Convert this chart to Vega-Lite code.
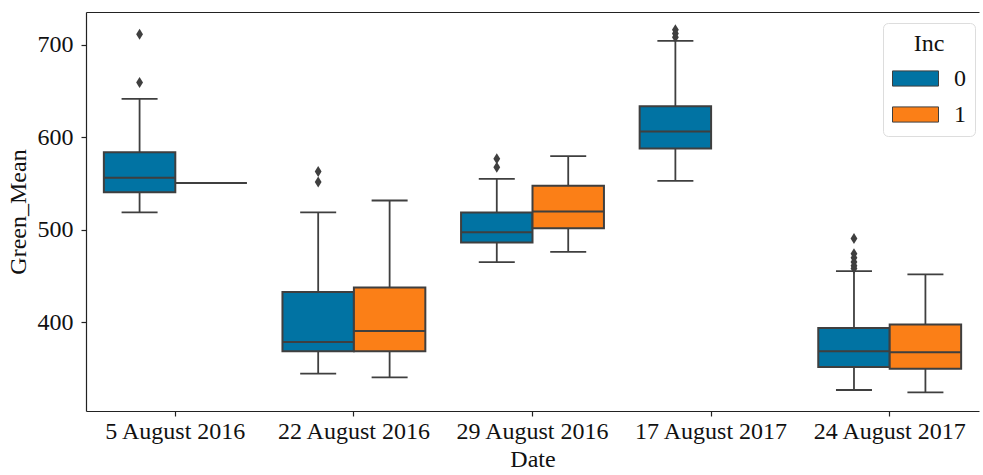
{
  "$schema": "https://vega.github.io/schema/vega-lite/v6.json",
  "autosize": "none",
  "width": 893,
  "height": 399,
  "padding": {"left": 86, "top": 12, "right": 4, "bottom": 64},
  "background": "white",
  "config": {
    "view": {"stroke": null},
    "font": "Liberation Serif",
    "axis": {
      "labelFont": "Liberation Serif",
      "titleFont": "Liberation Serif",
      "labelFontSize": 24,
      "titleFontSize": 24,
      "titleFontWeight": "normal",
      "labelColor": "#111111",
      "titleColor": "#111111",
      "domainColor": "#222222",
      "domainWidth": 1.2,
      "tickColor": "#222222",
      "tickWidth": 1.2,
      "tickSize": 5,
      "grid": false
    },
    "legend": {
      "labelFont": "Liberation Serif",
      "titleFont": "Liberation Serif"
    }
  },
  "datasets": {
    "boxes": [
      {"date": "5 August 2016", "inc": "0", "lo": 518.6, "q1": 540.5, "med": 556.0, "q3": 583.7, "hi": 641.3},
      {"date": "5 August 2016", "inc": "1", "lo": 550.5, "q1": 550.5, "med": 550.5, "q3": 550.5, "hi": 550.5},
      {"date": "22 August 2016", "inc": "0", "lo": 344.3, "q1": 368.5, "med": 378.5, "q3": 432.5, "hi": 518.6},
      {"date": "22 August 2016", "inc": "1", "lo": 340.4, "q1": 368.5, "med": 390.4, "q3": 437.6, "hi": 531.5},
      {"date": "29 August 2016", "inc": "0", "lo": 464.9, "q1": 486.2, "med": 497.3, "q3": 518.6, "hi": 554.9},
      {"date": "29 August 2016", "inc": "1", "lo": 476.0, "q1": 501.6, "med": 519.7, "q3": 547.3, "hi": 579.4},
      {"date": "17 August 2017", "inc": "0", "lo": 552.7, "q1": 587.7, "med": 606.0, "q3": 633.4, "hi": 703.9},
      {"date": "24 August 2017", "inc": "0", "lo": 326.7, "q1": 351.5, "med": 368.5, "q3": 393.6, "hi": 455.2},
      {"date": "24 August 2017", "inc": "1", "lo": 324.2, "q1": 349.7, "med": 367.4, "q3": 397.6, "hi": 451.6}
    ],
    "outliers": [
      {"date": "5 August 2016", "inc": "0", "value": 711.1},
      {"date": "5 August 2016", "inc": "0", "value": 659.0},
      {"date": "22 August 2016", "inc": "0", "value": 562.8},
      {"date": "22 August 2016", "inc": "0", "value": 551.5},
      {"date": "29 August 2016", "inc": "0", "value": 576.5},
      {"date": "29 August 2016", "inc": "0", "value": 567.5},
      {"date": "17 August 2017", "inc": "0", "value": 716.0},
      {"date": "17 August 2017", "inc": "0", "value": 712.0},
      {"date": "17 August 2017", "inc": "0", "value": 708.0},
      {"date": "24 August 2017", "inc": "0", "value": 490.5},
      {"date": "24 August 2017", "inc": "0", "value": 474.0},
      {"date": "24 August 2017", "inc": "0", "value": 469.5},
      {"date": "24 August 2017", "inc": "0", "value": 465.0},
      {"date": "24 August 2017", "inc": "0", "value": 461.0},
      {"date": "24 August 2017", "inc": "0", "value": 458.0}
    ]
  },
  "data": {"name": "boxes"},
  "encoding": {
    "x": {
      "field": "date", "type": "nominal",
      "sort": ["5 August 2016", "22 August 2016", "29 August 2016", "17 August 2017", "24 August 2017"],
      "scale": {"type": "band", "paddingInner": 0, "paddingOuter": 0},
      "axis": null
    },
    "xOffset": {
      "field": "inc", "type": "nominal",
      "scale": {"domain": ["0", "1"], "paddingInner": 0, "paddingOuter": 0.25}
    }
  },
  "layer": [
    {
      "mark": {"type": "rule", "color": "#3f3f3f", "strokeWidth": 1.8},
      "encoding": {
        "y": {"field": "lo", "type": "quantitative"},
        "y2": {"field": "q1"}
      }
    },
    {
      "mark": {"type": "rule", "color": "#3f3f3f", "strokeWidth": 1.8},
      "encoding": {
        "y": {"field": "q3", "type": "quantitative"},
        "y2": {"field": "hi"}
      }
    },
    {
      "mark": {"type": "tick", "color": "#3f3f3f", "size": 36, "thickness": 1.8, "opacity": 1},
      "encoding": {
        "y": {"field": "lo", "type": "quantitative"}
      }
    },
    {
      "mark": {"type": "tick", "color": "#3f3f3f", "size": 36, "thickness": 1.8, "opacity": 1},
      "encoding": {
        "y": {"field": "hi", "type": "quantitative"}
      }
    },
    {
      "mark": {"type": "bar", "stroke": "#3f3f3f", "strokeWidth": 2, "fillOpacity": 1},
      "encoding": {
        "x": {
          "field": "date", "type": "nominal",
          "sort": ["5 August 2016", "22 August 2016", "29 August 2016", "17 August 2017", "24 August 2017"],
          "axis": {"title": "Date", "orient": "bottom", "labelPadding": 3, "titlePadding": 4, "domain": true, "labelAngle": 0}
        },
        "y": {
          "field": "q1", "type": "quantitative",
          "scale": {"domain": [304, 735.2], "nice": false, "zero": false},
          "axis": {"title": "Green_Mean", "values": [400, 500, 600, 700], "labelPadding": 8, "titlePadding": 7}
        },
        "y2": {"field": "q3"},
        "fill": {
          "field": "inc", "type": "nominal",
          "scale": {"domain": ["0", "1"], "range": ["#0173a3", "#fb7f17"]},
          "legend": {
            "title": "Inc",
            "orient": "none",
            "legendX": 797,
            "legendY": 11,
            "direction": "vertical",
            "titleFontSize": 24,
            "titleFontWeight": "normal",
            "titleAnchor": "middle",
            "titleAlign": "center",
            "titleColor": "#111111",
            "titlePadding": -1,
            "labelFontSize": 24,
            "labelColor": "#111111",
            "labelOffset": 15,
            "rowPadding": 0,
            "symbolType": "M-1,-0.33H1V0.33H-1Z",
            "symbolSize": 2116,
            "symbolStrokeColor": "#3f3f3f",
            "symbolStrokeWidth": 1,
            "symbolOpacity": 1,
            "fillColor": "white",
            "strokeColor": "#dddddd",
            "cornerRadius": 5,
            "padding": 9
          }
        }
      }
    },
    {
      "mark": {"type": "bar", "stroke": "#3f3f3f", "strokeWidth": 2, "fillOpacity": 0},
      "encoding": {
        "x": {
          "field": "date", "type": "nominal",
          "sort": ["5 August 2016", "22 August 2016", "29 August 2016", "17 August 2017", "24 August 2017"],
          "axis": {"orient": "top", "title": null, "labels": false, "ticks": false, "domain": true}
        },
        "y": {"field": "med", "type": "quantitative"},
        "y2": {"field": "med"}
      }
    },
    {
      "data": {"name": "outliers"},
      "mark": {"type": "point", "shape": "M0,-1L0.62,0L0,1L-0.62,0Z", "size": 121, "filled": true, "color": "#3f3f3f", "opacity": 1},
      "encoding": {
        "y": {"field": "value", "type": "quantitative"}
      }
    }
  ],
  "resolve": {"axis": {"x": "independent"}}
}
